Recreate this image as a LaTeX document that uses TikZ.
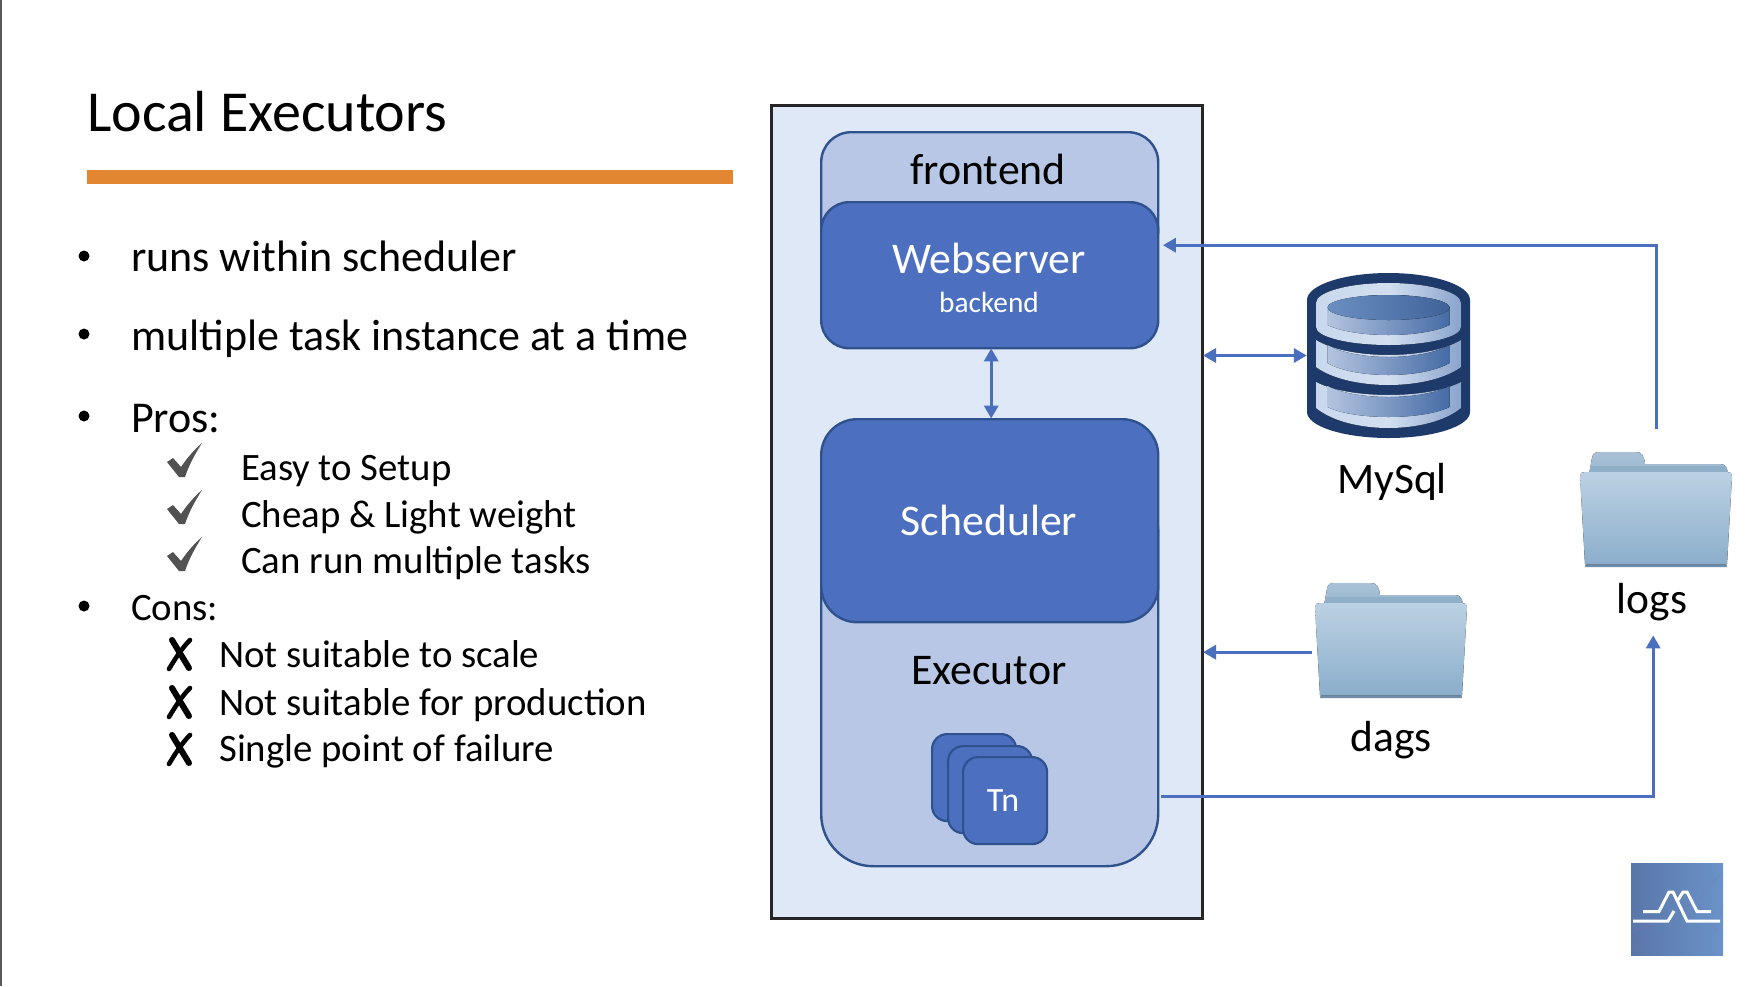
\documentclass[tikz,border=0pt]{standalone}
\usepackage{fontspec}
\setmainfont{Carlito}
\usetikzlibrary{arrows.meta}
\definecolor{arrowblue}{HTML}{4A6FBE}
\definecolor{boxblue}{HTML}{4C70BF}
\definecolor{boxedge}{HTML}{2F528F}
\definecolor{paleblue}{HTML}{B7C7E5}
\definecolor{panel}{HTML}{DFE8F6}
\definecolor{navy}{HTML}{1D3A6A}
\definecolor{rulecol}{HTML}{E38631}
\definecolor{shellL}{HTML}{C9D8EE}
\definecolor{shellM}{HTML}{D3DFF0}
\definecolor{shellR}{HTML}{8AA4CD}
\definecolor{coreL}{HTML}{B3C4E0}
\definecolor{coreR}{HTML}{456BA5}
\definecolor{capL}{HTML}{6C8FC2}
\definecolor{capR}{HTML}{3F6399}
\definecolor{tabT}{HTML}{A9C2D7}
\definecolor{tabB}{HTML}{9AB7CF}
\definecolor{backc}{HTML}{8FAEC7}
\definecolor{foldT}{HTML}{BCD1E3}
\definecolor{foldB}{HTML}{8BAECB}
\definecolor{foldS}{HTML}{6F8DA8}
\definecolor{logoL}{HTML}{5A76A8}
\definecolor{logoR}{HTML}{6A93C9}
\definecolor{logoN}{HTML}{8A6FB8}
\tikzset{
  x=1pt,y=-1pt,
  panelbox/.style={draw=black!85,line width=3pt,fill=panel,minimum width=431pt,minimum height=813pt,inner sep=0pt},
  palebox/.style={draw=boxedge,line width=2.4pt,fill=paleblue,minimum width=337pt,inner sep=0pt},
  bluebox/.style={draw=boxedge,line width=2.4pt,fill=boxblue,minimum width=337pt,inner sep=0pt},
  tile/.style={draw=boxedge,line width=2.2pt,fill=boxblue,rounded corners=15pt,minimum width=84pt,minimum height=87pt,inner sep=0pt},
  body/.style={anchor=base west,inner sep=0pt,font=\fontsize{44}{46}\selectfont},
  sub/.style={anchor=base west,inner sep=0pt,font=\fontsize{38.8}{41}\selectfont},
  boxlabel/.style={anchor=base,inner sep=0pt,font=\fontsize{43.8}{46}\selectfont},
  whitelabel/.style={boxlabel,text=white},
  imglabel/.style={anchor=base,inner sep=0pt,font=\fontsize{43.5}{46}\selectfont},
  link/.style={draw=arrowblue,line width=3.4pt},
  tip/.style={-{Triangle[length=13pt,width=14pt]}},
  tips/.style={{Triangle[length=13pt,width=14pt]}-{Triangle[length=13pt,width=14pt]}},
  bul/.style={circle,fill=black,minimum size=11pt,inner sep=0pt},
  tick/.pic={\fill[black!68] (0,19) -- (6,15) -- (14,24) .. controls (20,15) and (27,7) .. (35,0) .. controls (28,11) and (22,22) .. (18,34) -- (12,34) -- cycle;},
  cross/.pic={\draw[black,line width=6pt,line cap=round] (6,2) -- (23,30);\draw[black,line width=4.6pt,line cap=round] (24,2) .. controls (16,10) and (9,21) .. (3,31);},
  folder/.pic={
    \fill[foldS] (6,110) -- (146,110) -- (147,115) -- (5,115) -- cycle;
    \fill[top color=tabT,bottom color=tabB] (9,22) -- (12,6) .. controls (13,1) and (15,0) .. (18,0) -- (56,0) .. controls (62,0) and (64,4) .. (65,12) -- (140,12) .. controls (145,12) and (147,15) .. (148,22) -- cycle;
    \fill[backc] (10,20) -- (12,14) -- (146,14) -- (148,20) -- cycle;
    \fill[top color=foldT,bottom color=foldB] (0,24) .. controls (0,21) and (2,20) .. (5,20) -- (147,20) .. controls (150,20) and (152,21) .. (152,24) -- (147,112) -- (5,112) -- cycle;
  },
}
% half width, top edge, top centre, bottom edge, bottom centre, fill options
\newcommand{\dblayer}[6]{%
  \fill[#6] ({1388.5-#1},#2) .. controls ({1388.5-#1},{#3+(#2-#3)*0.45}) and ({1388.5-0.55*#1},#3) .. (1388.5,#3)
    .. controls ({1388.5+0.55*#1},#3) and ({1388.5+#1},{#3+(#2-#3)*0.45}) .. ({1388.5+#1},#2)
    -- ({1388.5+#1},#4) .. controls ({1388.5+#1},{#5+(#4-#5)*0.45}) and ({1388.5+0.55*#1},#5) .. (1388.5,#5)
    .. controls ({1388.5-0.55*#1},#5) and ({1388.5-#1},{#5+(#4-#5)*0.45}) .. ({1388.5-#1},#4) -- cycle;
}
\newcommand{\dbcore}[6]{%
  \fill[#6] ({1388.5-#1},#2) .. controls ({1388.5-0.55*#1},{#2+(#3-#2)*4/3}) and ({1388.5+0.55*#1},{#2+(#3-#2)*4/3}) .. ({1388.5+#1},#2)
    -- ({1388.5+#1},#4) .. controls ({1388.5+0.55*#1},{#4+(#5-#4)*4/3}) and ({1388.5-0.55*#1},{#4+(#5-#4)*4/3}) .. ({1388.5-#1},#4) -- cycle;
}
\begin{document}
\begin{tikzpicture}
\useasboundingbox (0,0) rectangle (1754,986);
\fill[white] (0,0) rectangle (1754,986);
\fill[black!65] (0,0) rectangle (1.5,986);

% left column
\node[anchor=base west,inner sep=0pt,font=\fontsize{58}{60}\selectfont] (title) at (87,131) {Local Executors};
\node[minimum width=646pt,minimum height=14pt,inner sep=0pt,anchor=north west,fill=rulecol] (rule) at (87,170) {};

\node[bul] (b1) at (84,256) {};
\node[body] (t1) at (131,271) {runs within scheduler};
\node[bul] (b2) at (84,334) {};
\node[body] (t2) at (131,350) {multiple task instance at a time};
\node[bul] (b3) at (84,416) {};
\node[body] (t3) at (131,432) {Pros:};
\pic at (167,443) {tick};
\node[sub] (p1) at (241,480) {Easy to Setup};
\pic at (167,490) {tick};
\node[sub] (p2) at (241,527) {Cheap \& Light weight};
\pic at (167,537) {tick};
\node[sub] (p3) at (241,573) {Can run multiple tasks};
\node[bul] (b4) at (84,606) {};
\node[sub] (t4) at (131,620) {Cons:};
\pic at (166,638) {cross};
\node[sub] (c1) at (219,667) {Not suitable to scale};
\pic at (166,686) {cross};
\node[sub] (c2) at (219,715) {Not suitable for production};
\pic at (166,733) {cross};
\node[sub] (c3) at (219,761) {Single point of failure};

% main panel
\node[panelbox,anchor=north west] (panel) at (770,104) {};
\node[palebox,minimum height=128pt,rounded corners=30pt,anchor=north west] (front) at (820,131) {};
\node[palebox,minimum height=386pt,rounded corners=52pt,anchor=north west] (exec) at (820,479) {};
\node[bluebox,minimum height=146pt,rounded corners=28pt,anchor=north west] (web) at (820,201) {};
\node[bluebox,minimum height=203pt,rounded corners=36pt,anchor=north west] (sched) at (820,418) {};
\node[boxlabel] (frontl) at (988,184) {frontend};
\node[whitelabel] (webl) at (989,273) {Webserver};
\node[anchor=base,inner sep=0pt,text=white,font=\fontsize{29.3}{31}\selectfont] (backl) at (989,312) {backend};
\node[whitelabel] (schedl) at (989,535) {Scheduler};
\node[boxlabel] (execl) at (989,684) {Executor};
\node[tile,anchor=north west] (t1box) at (931,733) {};
\node[tile,anchor=north west] (t2box) at (947,745) {};
\node[tile,anchor=north west] (t3box) at (962,756) {};
\node[anchor=base,inner sep=0pt,text=white,font=\fontsize{34}{36}\selectfont] (tn) at (1003,811) {Tn};

% database
\node[minimum width=163pt,minimum height=165pt,inner sep=0pt] (db) at (1388.5,355.5) {};
\dblayer{81.5}{300}{273}{412}{438}{navy}
\dblayer{72.5}{303}{283}{327}{345}{left color=shellL,right color=shellR,middle color=shellM}
\dbcore{72.5}{340}{355}{367}{385}{left color=shellL,right color=shellR,middle color=shellM}
\dbcore{72.5}{382}{395}{408}{428}{left color=shellL,right color=shellR,middle color=shellM}
\dbcore{61}{307}{295}{325}{335}{left color=coreL,right color=coreR}
\fill[left color=capL,right color=capR] (1388.5,307.5) ellipse [x radius=61,y radius=12.5];
\dbcore{61}{345}{357}{363}{375}{left color=coreL,right color=coreR}
\dbcore{61}{386}{397}{407}{417}{left color=coreL,right color=coreR}
\node[imglabel] (dbl) at (1392,493) {MySql};

% folders
\node[anchor=north west,minimum width=152pt,minimum height=115pt,inner sep=0pt] (dags) at (1315,583) {};
\pic at (1315,583) {folder};
\node[imglabel] (dagsl) at (1391,751) {dags};
\node[anchor=north west,minimum width=152pt,minimum height=115pt,inner sep=0pt] (logs) at (1580,452) {};
\pic at (1580,452) {folder};
\node[imglabel] (logsl) at (1652,613) {logs};

% connectors
\draw[link,tips] ([xshift=1.5pt,yshift=1pt]web.south) -- ([xshift=1.5pt,yshift=-0.5pt]sched.north);
\draw[link,tips] ([xshift=-1pt]panel.east |- db.west) -- (db.west);
\draw[link,tip] ([xshift=-3pt,yshift=-11.5pt]dags.west) -- ([xshift=-1pt,yshift=-11.5pt]dags.west -| panel.east);
\draw[link,tip] ([yshift=23pt]logs.north) |- ([xshift=3.5pt,yshift=30pt]web.east);
\draw[link,tip] ([xshift=2pt,yshift=-123pt]exec.east) -| ([xshift=-3pt,yshift=-68pt]logs.south);

% logo
\node[minimum width=92pt,minimum height=92pt,inner sep=0pt,anchor=north west,left color=logoL,right color=logoR] (logo) at (1631,863) {};
\begin{scope}[draw=logoN,opacity=.35,line width=.6pt]
\draw (1633,932) -- (1665,915) -- (1697,902) -- (1712,883) -- (1723,872);
\draw (1697,902) -- (1716,930) -- (1723,905);
\draw (1633,930) -- (1655,925) -- (1663,955);
\draw (1633,950) -- (1655,925);
\end{scope}
\draw[white,line width=3pt] (1643,911.5) -- (1659,911.5) -- (1669,892) -- (1673,892) -- (1687,921) -- (1720,921);
\draw[white,line width=3pt] (1633,921) -- (1668,921) -- (1674,911);
\draw[white,line width=3pt] (1678,900) -- (1683,892) -- (1687,892) -- (1697,911.5) -- (1711,911.5);
\end{tikzpicture}
\end{document}
